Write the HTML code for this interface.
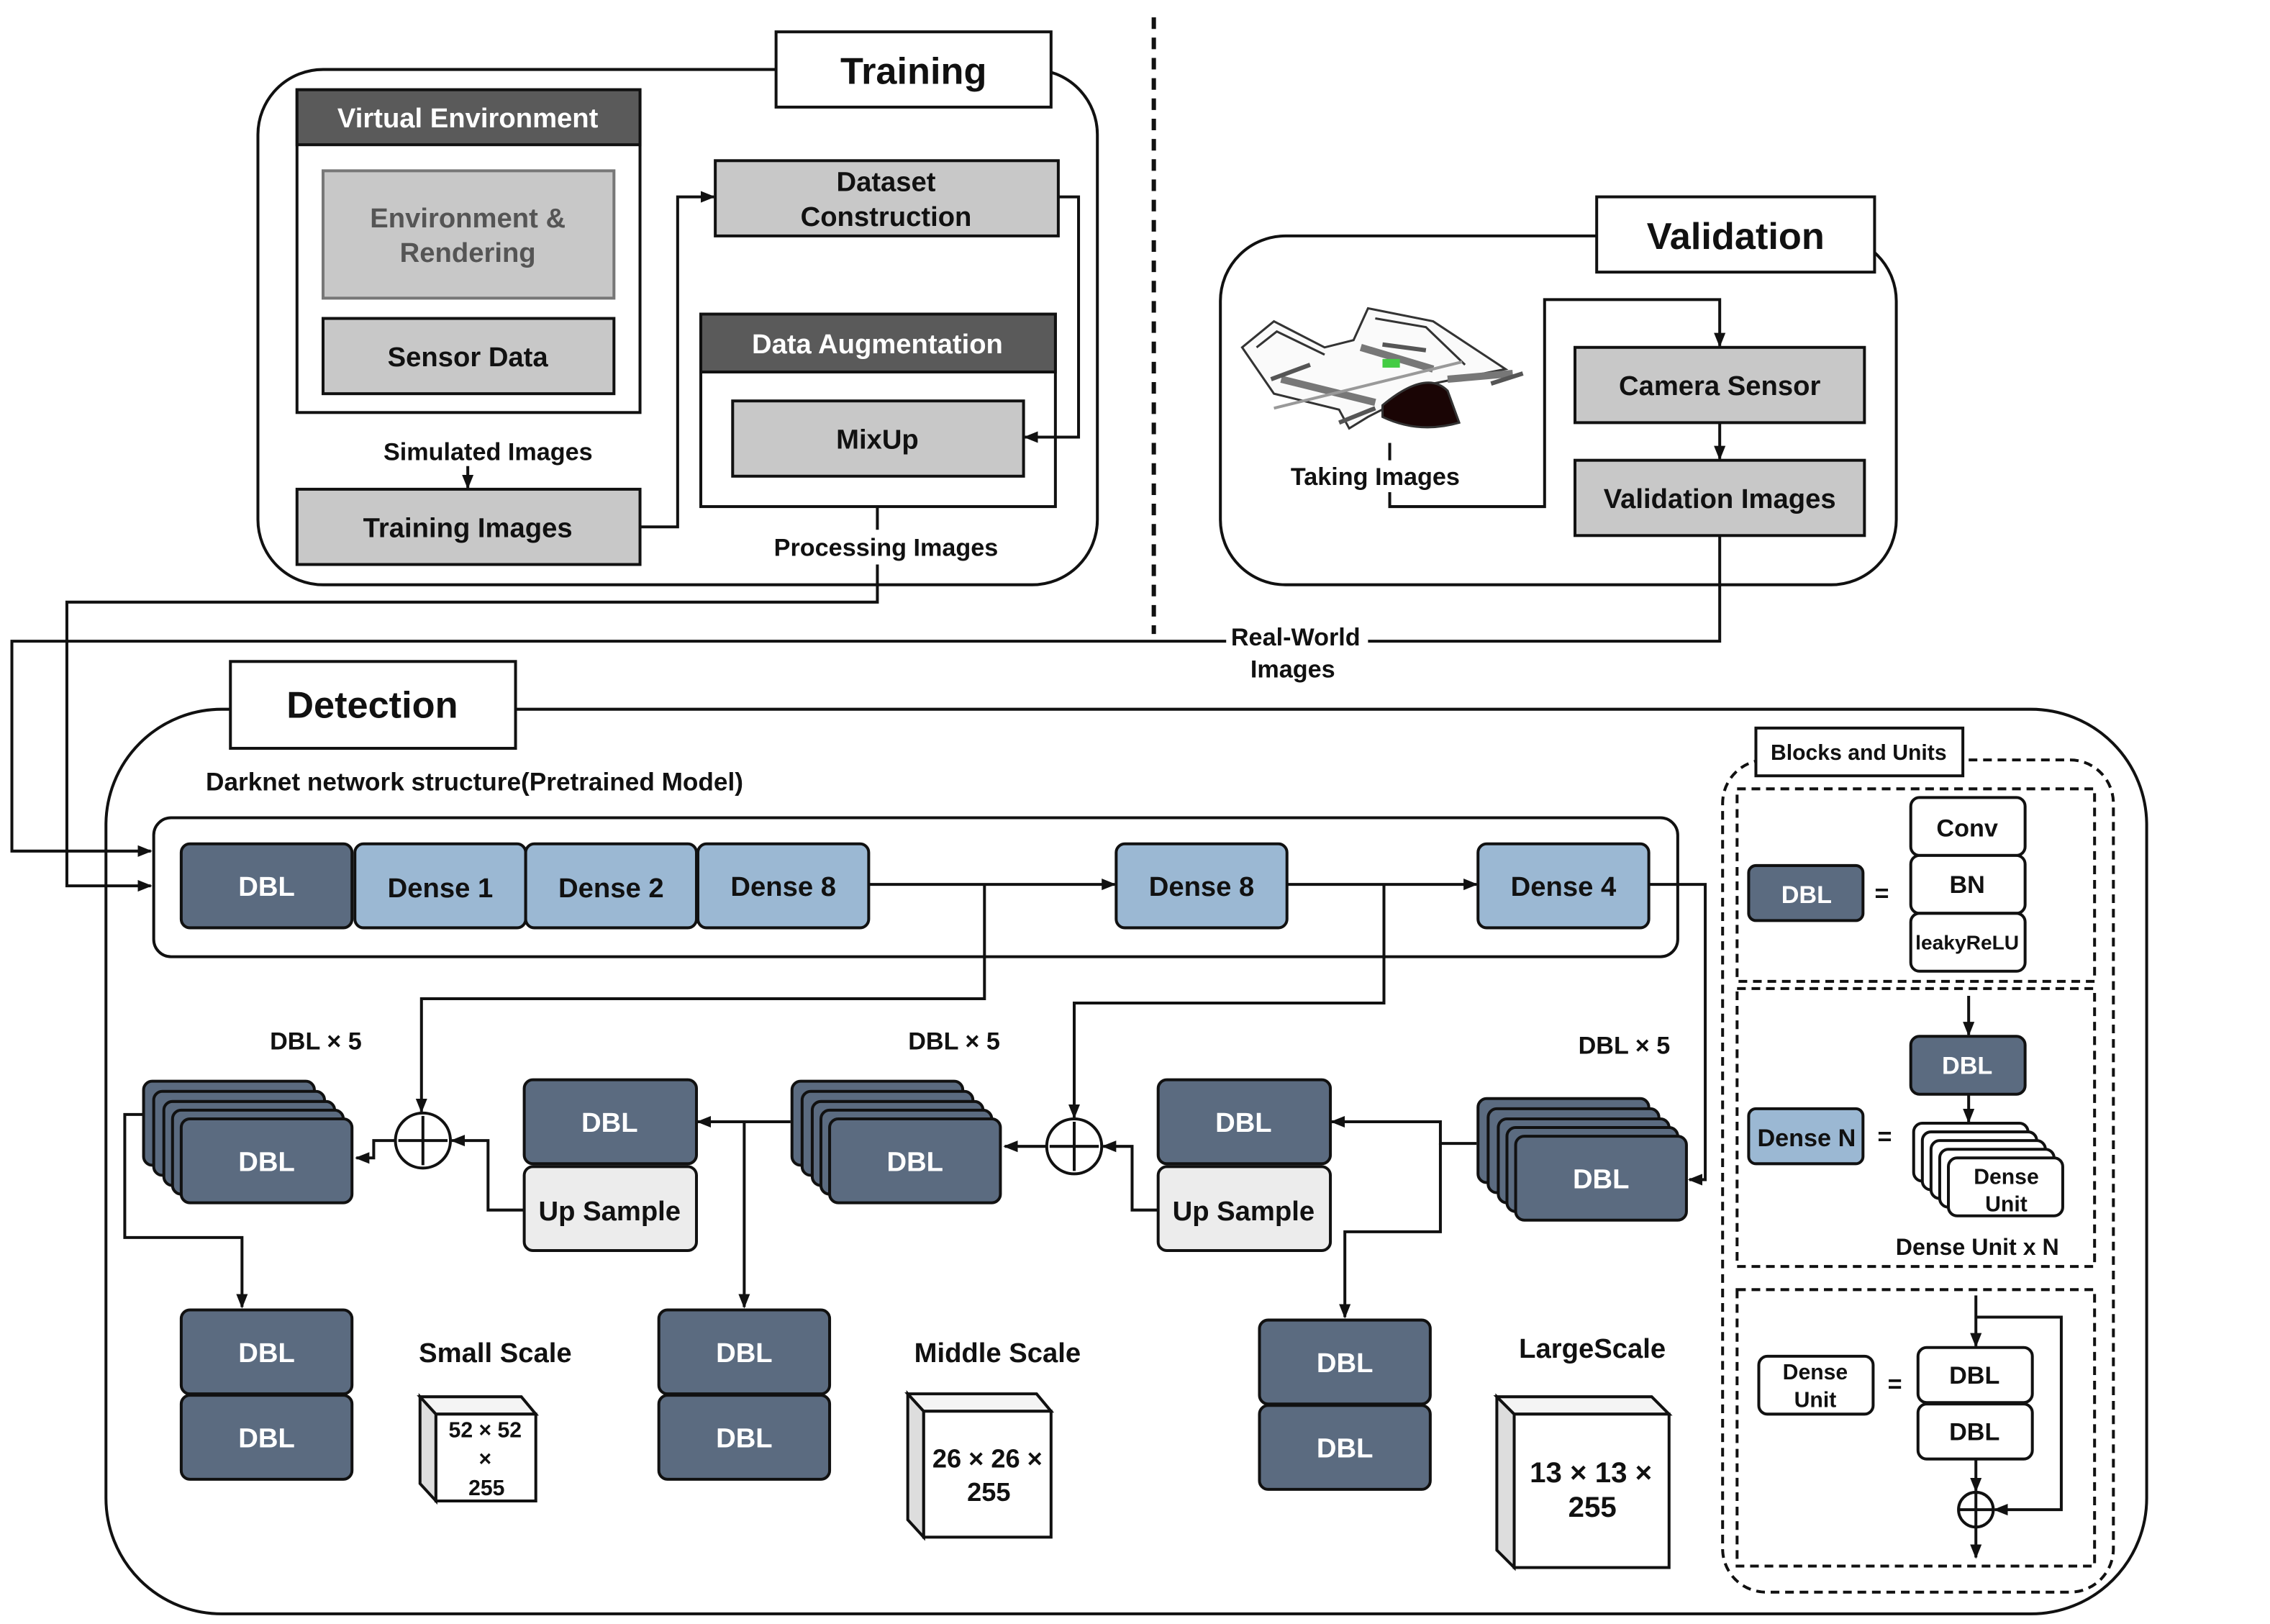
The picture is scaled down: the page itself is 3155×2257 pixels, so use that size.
<!DOCTYPE html>
<html><head><meta charset="utf-8"><style>
html,body{margin:0;padding:0;background:#fff}
svg{display:block}
text{font-family:"Liberation Sans",sans-serif;font-weight:bold;fill:#111}
</style></head><body>
<svg width="3155" height="2257" viewBox="0 0 1568 1122" xmlns="http://www.w3.org/2000/svg">
<defs>
<marker id="a" markerWidth="10" markerHeight="10" refX="9" refY="5" orient="auto" markerUnits="userSpaceOnUse"><path d="M0,1 L10,5 L0,9 z" fill="#111"/></marker>
</defs>
<g stroke="#111" stroke-width="2" fill="none">
<rect x="178" y="48" width="580" height="356" rx="45"/>
<line x1="797" y1="12" x2="797" y2="438" stroke-dasharray="8,6" stroke-width="3"/>
<rect x="843" y="163" width="467" height="241" rx="45"/>
<rect x="73" y="490" width="1410" height="625" rx="80"/>
<rect x="106" y="565" width="1053" height="96" rx="12"/>
<rect x="1190" y="525" width="270" height="575" rx="30" stroke-dasharray="6,4"/>
<rect x="1200" y="545" width="247" height="133" stroke-dasharray="6,4"/>
<rect x="1200" y="683" width="247" height="192" stroke-dasharray="6,4"/>
<rect x="1200" y="891" width="247" height="191" stroke-dasharray="6,4"/>
</g>
<g stroke="#111" stroke-width="2" fill="#fff">
<rect x="536" y="22" width="190" height="52"/>
<rect x="1103" y="136" width="192" height="52"/>
<rect x="159" y="457" width="197" height="60"/>
<rect x="1213" y="503" width="143" height="33"/>
</g>
<text x="631" y="58" font-size="26" text-anchor="middle">Training</text>
<text x="1199" y="172" font-size="26" text-anchor="middle">Validation</text>
<text x="257" y="496" font-size="26" text-anchor="middle">Detection</text>
<text x="1284" y="525" font-size="15" text-anchor="middle">Blocks and Units</text>

<g stroke="#111" stroke-width="2">
<rect x="205" y="62" width="237" height="223" fill="#fff"/>
<rect x="205" y="62" width="237" height="38" fill="#5a5a5a"/>
<rect x="223" y="118" width="201" height="88" fill="#c8c8c8" stroke="#777"/>
<rect x="223" y="220" width="201" height="52" fill="#c8c8c8"/>
<rect x="205" y="338" width="237" height="52" fill="#c8c8c8"/>
<rect x="494" y="111" width="237" height="52" fill="#c8c8c8"/>
<rect x="484" y="217" width="245" height="133" fill="#fff"/>
<rect x="484" y="217" width="245" height="40" fill="#5a5a5a"/>
<rect x="506" y="277" width="201" height="52" fill="#c8c8c8"/>
</g>
<text x="323" y="88" font-size="19" text-anchor="middle" style="fill:#fff">Virtual Environment</text>
<text x="323" y="157" font-size="19" text-anchor="middle" style="fill:#555">Environment &amp;</text>
<text x="323" y="181" font-size="19" text-anchor="middle" style="fill:#555">Rendering</text>
<text x="323" y="253" font-size="19" text-anchor="middle">Sensor Data</text>
<text x="323" y="371" font-size="19" text-anchor="middle">Training Images</text>
<text x="612" y="132" font-size="19" text-anchor="middle">Dataset</text>
<text x="612" y="156" font-size="19" text-anchor="middle">Construction</text>
<text x="606" y="244" font-size="19" text-anchor="middle" style="fill:#fff">Data Augmentation</text>
<text x="606" y="310" font-size="19" text-anchor="middle">MixUp</text>
<text x="337" y="318" font-size="17" text-anchor="middle">Simulated Images</text>
<text x="612" y="384" font-size="17" text-anchor="middle">Processing Images</text>

<g stroke="#111" stroke-width="2" fill="none">
<line x1="323" y1="322" x2="323" y2="337" marker-end="url(#a)"/>
<polyline points="442,364 468,364 468,136 493,136" marker-end="url(#a)"/>
<polyline points="731,136 745,136 745,302 708,302" marker-end="url(#a)"/>
<line x1="606" y1="350" x2="606" y2="366"/>
<polyline points="606,390 606,416 46,416 46,612 104,612" marker-end="url(#a)"/>
<line x1="1188" y1="292" x2="1188" y2="317" marker-end="url(#a)"/>
<polyline points="960,306 960,318"/>
<polyline points="960,340 960,350 1067,350 1067,207 1188,207 1188,239" marker-end="url(#a)"/>
<polyline points="1188,370 1188,443 945,443"/>
<polyline points="847,443 8,443 8,588 104,588" marker-end="url(#a)"/>
</g>
<g stroke="#111" stroke-width="2">
<rect x="1088" y="240" width="200" height="52" fill="#c8c8c8"/>
<rect x="1088" y="318" width="200" height="52" fill="#c8c8c8"/>
</g>
<text x="1188" y="273" font-size="19" text-anchor="middle">Camera Sensor</text>
<text x="1188" y="351" font-size="19" text-anchor="middle">Validation Images</text>
<text x="950" y="335" font-size="17" text-anchor="middle">Taking Images</text>
<text x="895" y="446" font-size="17" text-anchor="middle">Real-World</text>
<text x="893" y="468" font-size="17" text-anchor="middle">Images</text>
<!-- drone -->
<g stroke="#333" stroke-width="1.5">
<path d="M858,240 L880,222 L915,240 L935,235 L945,213 L990,222 L1040,255 L990,265 L945,288 L932,296 L925,283 L880,272 z" fill="#fafafa"/>
<path d="M868,240 L882,229 L915,245" fill="none"/>
<path d="M950,220 L985,226 L1012,252" fill="none"/>
<line x1="885" y1="262" x2="950" y2="278" stroke="#777" stroke-width="5"/>
<line x1="940" y1="240" x2="990" y2="255" stroke="#777" stroke-width="5"/>
<line x1="1000" y1="262" x2="1045" y2="258" stroke="#777" stroke-width="5"/>
<line x1="880" y1="282" x2="1010" y2="250" stroke="#999" stroke-width="2"/>
<path d="M955,280 Q985,255 1000,270 L1008,292 Q980,300 955,288 z" fill="#1a0505"/>
<line x1="878" y1="262" x2="905" y2="252" stroke="#555" stroke-width="3"/>
<line x1="955" y1="238" x2="985" y2="242" stroke="#555" stroke-width="3"/>
<line x1="1030" y1="265" x2="1052" y2="258" stroke="#555" stroke-width="3"/>
<line x1="925" y1="292" x2="950" y2="282" stroke="#555" stroke-width="3"/>
<rect x="955" y="248" width="12" height="6" fill="#4c4" stroke="none"/>
</g>

<text x="142" y="546" font-size="17.5">Darknet network structure(Pretrained Model)</text>

<g stroke="#111" stroke-width="2">
<rect x="125" y="583" width="118" height="58" rx="6" fill="#5b6b80"/>
<rect x="245" y="583" width="118" height="58" rx="6" fill="#9bb8d3"/>
<rect x="363" y="583" width="118" height="58" rx="6" fill="#9bb8d3"/>
<rect x="482" y="583" width="118" height="58" rx="6" fill="#9bb8d3"/>
<rect x="771" y="583" width="118" height="58" rx="6" fill="#9bb8d3"/>
<rect x="1021" y="583" width="118" height="58" rx="6" fill="#9bb8d3"/>
</g>
<g font-size="19" text-anchor="middle">
<text x="184" y="619" style="fill:#fff">DBL</text>
<text x="304" y="620">Dense 1</text>
<text x="422" y="620">Dense 2</text>
<text x="541" y="619">Dense 8</text>
<text x="830" y="619">Dense 8</text>
<text x="1080" y="619">Dense 4</text>
</g>
<g stroke="#111" stroke-width="2" fill="none">
<line x1="600" y1="611" x2="770" y2="611" marker-end="url(#a)"/>
<line x1="889" y1="611" x2="1020" y2="611" marker-end="url(#a)"/>
<polyline points="680,611 680,690 291,690 291,768" marker-end="url(#a)"/>
<polyline points="956,611 956,693 742,693 742,772" marker-end="url(#a)"/>
<polyline points="1139,611 1178,611 1178,815 1167,815" marker-end="url(#a)"/>
<polyline points="273,788 258,788 258,800 246,800" marker-end="url(#a)"/>
<polyline points="362,836 337,836 337,788 312,788" marker-end="url(#a)"/>
<line x1="546" y1="775" x2="482" y2="775" marker-end="url(#a)"/>
<polyline points="514,775 514,903" marker-end="url(#a)"/>
<line x1="723" y1="792" x2="694" y2="792" marker-end="url(#a)"/>
<polyline points="800,836 782,836 782,792 762,792" marker-end="url(#a)"/>
<polyline points="1020,790 995,790 995,775 920,775" marker-end="url(#a)"/>
<polyline points="995,790 995,851 929,851 929,910" marker-end="url(#a)"/>
<polyline points="99,770 86,770 86,855 167,855 167,903" marker-end="url(#a)"/>
</g>
<g stroke="#111" stroke-width="2" fill="#fff">
<circle cx="292" cy="788" r="19"/><path d="M275,788 H309 M292,771 V805"/>
<circle cx="742" cy="792" r="19"/><path d="M725,792 H759 M742,775 V809"/>
</g>
<g stroke="#111" stroke-width="2" fill="#5b6b80">
<rect x="99" y="747" width="118" height="58" rx="6"/>
<rect x="106" y="754" width="118" height="58" rx="6"/>
<rect x="113" y="761" width="118" height="58" rx="6"/>
<rect x="119" y="767" width="118" height="58" rx="6"/>
<rect x="125" y="773" width="118" height="58" rx="6"/>
<rect x="547" y="747" width="118" height="58" rx="6"/>
<rect x="554" y="754" width="118" height="58" rx="6"/>
<rect x="561" y="761" width="118" height="58" rx="6"/>
<rect x="567" y="767" width="118" height="58" rx="6"/>
<rect x="573" y="773" width="118" height="58" rx="6"/>
<rect x="1021" y="759" width="118" height="58" rx="6"/>
<rect x="1028" y="766" width="118" height="58" rx="6"/>
<rect x="1035" y="773" width="118" height="58" rx="6"/>
<rect x="1041" y="779" width="118" height="58" rx="6"/>
<rect x="1047" y="785" width="118" height="58" rx="6"/>
<rect x="362" y="746" width="119" height="58" rx="6"/>
<rect x="800" y="746" width="119" height="58" rx="6"/>
<rect x="362" y="806" width="119" height="58" rx="6" fill="#ececec"/>
<rect x="800" y="806" width="119" height="58" rx="6" fill="#ececec"/>
<rect x="125" y="905" width="118" height="58" rx="6"/>
<rect x="125" y="964" width="118" height="58" rx="6"/>
<rect x="455" y="905" width="118" height="58" rx="6"/>
<rect x="455" y="964" width="118" height="58" rx="6"/>
<rect x="870" y="912" width="118" height="58" rx="6"/>
<rect x="870" y="971" width="118" height="58" rx="6"/>
</g>
<g font-size="19" text-anchor="middle">
<text x="184" y="809" style="fill:#fff">DBL</text>
<text x="632" y="809" style="fill:#fff">DBL</text>
<text x="1106" y="821" style="fill:#fff">DBL</text>
<text x="421" y="782" style="fill:#fff">DBL</text>
<text x="859" y="782" style="fill:#fff">DBL</text>
<text x="184" y="941" style="fill:#fff">DBL</text>
<text x="184" y="1000" style="fill:#fff">DBL</text>
<text x="514" y="941" style="fill:#fff">DBL</text>
<text x="514" y="1000" style="fill:#fff">DBL</text>
<text x="929" y="948" style="fill:#fff">DBL</text>
<text x="929" y="1007" style="fill:#fff">DBL</text>
</g>
<text x="421" y="843" font-size="19" text-anchor="middle">Up Sample</text>
<text x="859" y="843" font-size="19" text-anchor="middle">Up Sample</text>
<text x="218" y="725" font-size="17" text-anchor="middle">DBL × 5</text>
<text x="659" y="725" font-size="17" text-anchor="middle">DBL × 5</text>
<text x="1122" y="728" font-size="17" text-anchor="middle">DBL × 5</text>
<text x="342" y="941" font-size="19" text-anchor="middle">Small Scale</text>
<text x="689" y="941" font-size="19" text-anchor="middle">Middle Scale</text>
<text x="1100" y="938" font-size="19" text-anchor="middle">LargeScale</text>
<g stroke="#111" stroke-width="2">
<polygon points="290,965 301,977 301,1037 290,1025" fill="#ddd"/>
<polygon points="290,965 360,965 370,977 301,977" fill="#f4f4f4"/>
<rect x="301" y="977" width="69" height="60" fill="#fff"/>
<polygon points="627,963 638,975 638,1062 627,1050" fill="#ddd"/>
<polygon points="627,963 716,963 726,975 638,975" fill="#f4f4f4"/>
<rect x="638" y="975" width="88" height="87" fill="#fff"/>
<polygon points="1034,965 1046,977 1046,1083 1034,1071" fill="#ddd"/>
<polygon points="1034,965 1141,965 1153,977 1046,977" fill="#f4f4f4"/>
<rect x="1046" y="977" width="107" height="106" fill="#fff"/>
</g>
<g font-size="15" text-anchor="middle">
<text x="335" y="993">52 × 52</text><text x="335" y="1013">×</text><text x="336" y="1033">255</text>
</g>
<g font-size="18" text-anchor="middle">
<text x="682" y="1014">26 × 26 ×</text><text x="683" y="1037">255</text>
</g>
<g font-size="20" text-anchor="middle">
<text x="1099" y="1024">13 × 13 ×</text><text x="1100" y="1048">255</text>
</g>
<g stroke="#111" stroke-width="2">
<rect x="1208" y="598" width="79" height="38" rx="5" fill="#5b6b80"/>
<rect x="1320" y="551" width="79" height="40" rx="6" fill="#fff"/>
<rect x="1320" y="591" width="79" height="40" rx="6" fill="#fff"/>
<rect x="1320" y="631" width="79" height="40" rx="6" fill="#fff"/>
<rect x="1320" y="716" width="79" height="40" rx="6" fill="#5b6b80"/>
<rect x="1208" y="766" width="79" height="38" rx="5" fill="#9bb8d3"/>
<rect x="1322" y="776" width="79" height="40" rx="6" fill="#fff"/>
<rect x="1328" y="782" width="79" height="40" rx="6" fill="#fff"/>
<rect x="1334" y="788" width="79" height="40" rx="6" fill="#fff"/>
<rect x="1340" y="794" width="79" height="40" rx="6" fill="#fff"/>
<rect x="1346" y="800" width="79" height="40" rx="6" fill="#fff"/>
<rect x="1215" y="937" width="79" height="40" rx="6" fill="#fff"/>
<rect x="1325" y="931" width="79" height="38" rx="6" fill="#fff"/>
<rect x="1325" y="970" width="79" height="38" rx="6" fill="#fff"/>
</g>
<g stroke="#111" stroke-width="2" fill="none">
<line x1="1360" y1="688" x2="1360" y2="715" marker-end="url(#a)"/>
<line x1="1360" y1="756" x2="1360" y2="775" marker-end="url(#a)"/>
<line x1="1365" y1="895" x2="1365" y2="930" marker-end="url(#a)"/>
<polyline points="1365,910 1424,910 1424,1043 1378,1043" marker-end="url(#a)"/>
<line x1="1365" y1="1008" x2="1365" y2="1030" marker-end="url(#a)"/>
<line x1="1365" y1="1055" x2="1365" y2="1076" marker-end="url(#a)"/>
<circle cx="1365" cy="1043" r="12" fill="#fff"/>
<path d="M1353,1043 H1377 M1365,1031 V1055"/>
</g>
<text x="1248" y="624" font-size="17" text-anchor="middle" style="fill:#fff">DBL</text>
<text x="1300" y="623" font-size="17" text-anchor="middle">=</text>
<text x="1359" y="578" font-size="17" text-anchor="middle">Conv</text>
<text x="1359" y="617" font-size="17" text-anchor="middle">BN</text>
<text x="1359" y="656" font-size="14" text-anchor="middle">leakyReLU</text>
<text x="1359" y="742" font-size="17" text-anchor="middle" style="fill:#fff">DBL</text>
<text x="1248" y="792" font-size="17" text-anchor="middle">Dense N</text>
<text x="1302" y="791" font-size="17" text-anchor="middle">=</text>
<text x="1386" y="818" font-size="15" text-anchor="middle">Dense</text>
<text x="1386" y="837" font-size="15" text-anchor="middle">Unit</text>
<text x="1366" y="867" font-size="16" text-anchor="middle">Dense Unit x N</text>
<text x="1254" y="953" font-size="15" text-anchor="middle">Dense</text>
<text x="1254" y="972" font-size="15" text-anchor="middle">Unit</text>
<text x="1309" y="962" font-size="17" text-anchor="middle">=</text>
<text x="1364" y="956" font-size="17" text-anchor="middle">DBL</text>
<text x="1364" y="995" font-size="17" text-anchor="middle">DBL</text>
</svg>
</body></html>
